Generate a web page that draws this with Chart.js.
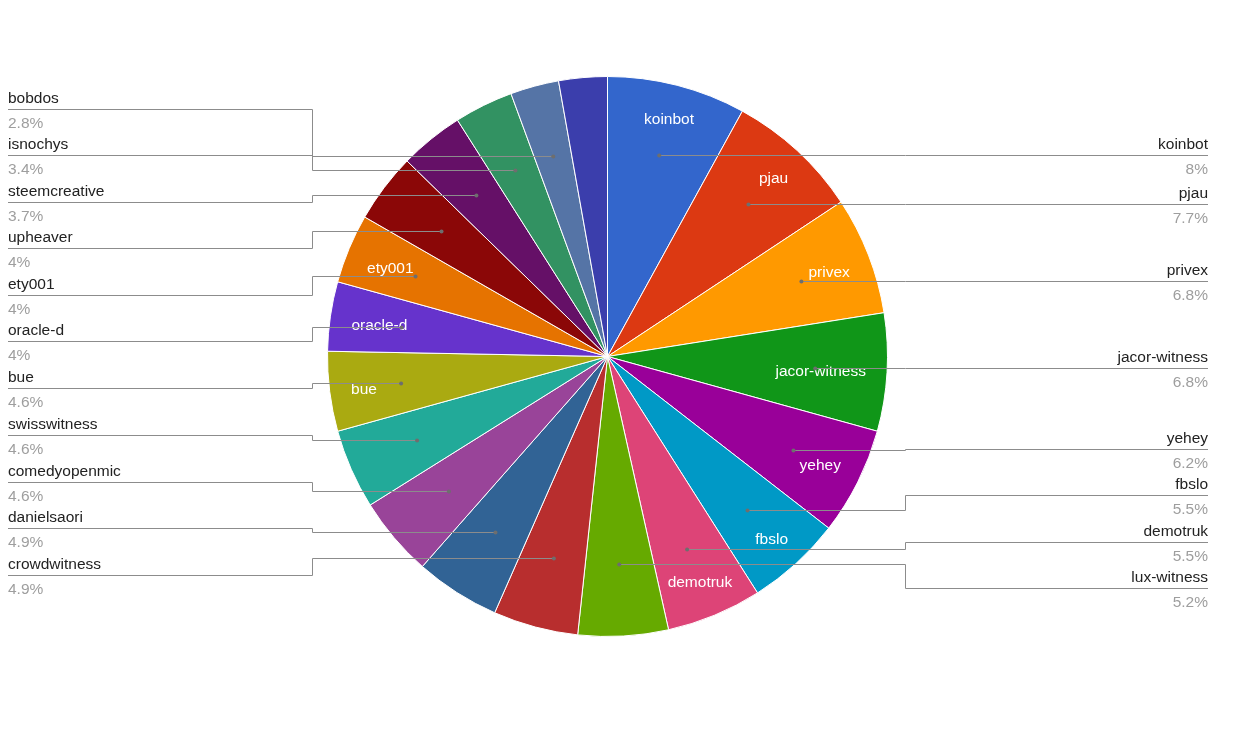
<!DOCTYPE html>
<html>
<head>
<meta charset="utf-8">
<title>Witness share</title>
<script src="https://cdn.jsdelivr.net/npm/chart.js@4.4.0/dist/chart.umd.min.js"></script>
<style>
    html, body { margin: 0; padding: 0; background: #ffffff; }
    #wrap { position: relative; width: 1250px; height: 750px; }
</style>
</head>
<body>
<div id="wrap"><canvas id="witnessPie"></canvas></div>
<script>
// slice data, clockwise from 12 o'clock (share in %)
const witnesses = ['koinbot', 'pjau', 'privex', 'jacor-witness', 'yehey', 'fbslo', 'demotruk',
    'lux-witness', 'crowdwitness', 'danielsaori', 'comedyopenmic', 'swisswitness', 'bue',
    'oracle-d', 'ety001', 'upheaver', 'steemcreative', 'isnochys', 'bobdos', ''];
const shares = [8, 7.7, 6.8, 6.8, 6.2, 5.5, 5.5, 5.2, 4.9, 4.9, 4.6, 4.6, 4.6,
    4, 4, 4, 3.7, 3.4, 2.8, 2.8];
// names that get printed inside their own slice
const insideNames = ['koinbot', 'pjau', 'privex', 'jacor-witness', 'yehey', 'fbslo',
    'demotruk', 'bue', 'oracle-d', 'ety001'];

const palette = ['#3366cc', '#dc3912', '#ff9900', '#109618', '#990099', '#0099c6', '#dd4477',
    '#66aa00', '#b82e2e', '#316395', '#994499', '#22aa99', '#aaaa11', '#6633cc', '#e67300',
    '#8b0707', '#651067', '#329262', '#5574a6', '#3b3eac'];

const FONT = '15.5px "Liberation Sans", Arial, Helvetica, sans-serif';
const LABEL_GAP = 46.5;

function fmtPct(v, total) {
    return parseFloat((v / total * 100).toFixed(1)) + '%';
}

// push overlapping side labels apart, centring each cluster on its wanted y
function spreadLabels(list, gap) {
    list.sort((a, b) => a.want - b.want);
    let groups = list.map(it => ({ members: [it], center: it.want }));
    let merged = true;
    while (merged) {
        merged = false;
        for (let i = 0; i < groups.length - 1; i++) {
            const a = groups[i], b = groups[i + 1];
            const aBottom = a.center + (a.members.length - 1) * gap / 2;
            const bTop = b.center - (b.members.length - 1) * gap / 2;
            if (bTop - aBottom < gap) {
                const members = a.members.concat(b.members);
                const center = members.reduce((s, m) => s + m.want, 0) / members.length;
                groups.splice(i, 2, { members, center });
                merged = true;
                break;
            }
        }
    }
    groups.forEach(g => g.members.forEach((m, k) => {
        m.y = g.center + (k - (g.members.length - 1) / 2) * gap;
    }));
}

const pieLabels = {
    id: 'pieLabels',
    afterDatasetsDraw(chart) {
        const ctx = chart.ctx;
        const arcs = chart.getDatasetMeta(0).data;
        const total = shares.reduce((a, b) => a + b, 0);
        const left = [], right = [];

        ctx.save();
        ctx.font = FONT;

        arcs.forEach((arc, i) => {
            const p = arc.getProps(['x', 'y', 'startAngle', 'endAngle', 'outerRadius'], true);
            const mid = (p.startAngle + p.endAngle) / 2;
            const cos = Math.cos(mid), sin = Math.sin(mid);
            const name = witnesses[i];

            if (insideNames.includes(name)) {
                const w = ctx.measureText(name).width;
                const ext = (w / 2) * Math.abs(cos) + 5.5 * Math.abs(sin);
                const r = p.outerRadius * 0.925 - ext;
                ctx.fillStyle = '#ffffff';
                ctx.textAlign = 'center';
                ctx.textBaseline = 'alphabetic';
                ctx.fillText(name, p.x + r * cos, p.y + r * sin + 7);
            }

            if (!name) return;
            const dr = p.outerRadius * 0.743;
            const item = {
                name,
                pct: fmtPct(shares[i], total),
                dx: p.x + dr * cos,
                dy: p.y + dr * sin,
                want: p.y + dr * sin
            };
            (cos >= 0 ? right : left).push(item);
        });

        spreadLabels(left, LABEL_GAP);
        spreadLabels(right, LABEL_GAP);

        const drawSide = (list, isRight) => {
            const edge = isRight ? 1208 : 8;
            const bend = isRight ? 905.5 : 312.5;
            list.forEach(it => {
                const ly = Math.round(it.y) + 0.5;
                const dy = Math.round(it.dy) + 0.5;
                ctx.strokeStyle = '#8c8c8c';
                ctx.lineWidth = 1;
                ctx.beginPath();
                ctx.moveTo(edge, ly);
                ctx.lineTo(bend, ly);
                ctx.lineTo(bend, dy);
                ctx.lineTo(it.dx, dy);
                ctx.stroke();

                ctx.fillStyle = '#6e6e6e';
                ctx.beginPath();
                ctx.arc(it.dx, dy, 2, 0, Math.PI * 2);
                ctx.fill();

                ctx.textAlign = isRight ? 'right' : 'left';
                ctx.textBaseline = 'alphabetic';
                ctx.fillStyle = '#222222';
                ctx.fillText(it.name, edge, ly - 6.5);
                ctx.fillStyle = '#9e9e9e';
                ctx.fillText(it.pct, edge, ly + 18.5);
            });
        };
        drawSide(left, false);
        drawSide(right, true);
        ctx.restore();
    }
};

new Chart(document.getElementById('witnessPie'), {
    type: 'pie',
    data: {
        labels: witnesses,
        datasets: [{
            data: shares,
            backgroundColor: palette,
            borderColor: '#ffffff',
            borderWidth: 1
        }]
    },
    options: {
        responsive: true,
        maintainAspectRatio: false,
        animation: false,
        layout: {
            padding: { top: 76, bottom: 113, left: 327, right: 362 }
        },
        plugins: {
            legend: { display: false },
            tooltip: { enabled: false }
        }
    },
    plugins: [pieLabels]
});
</script>
</body>
</html>
